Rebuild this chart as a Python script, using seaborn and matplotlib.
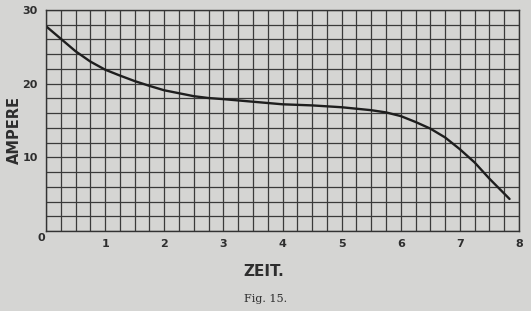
import numpy as np
import pandas as pd
import matplotlib
matplotlib.use("Agg")
import matplotlib.pyplot as plt
import seaborn as sns

zeit = [0, 0.25, 0.5, 0.75, 1.0, 1.25, 1.5, 1.75, 2.0, 2.25, 2.5, 2.75, 3.0,
        3.5, 4.0, 4.5, 5.0, 5.5, 5.75, 6.0, 6.25, 6.5, 6.75, 7.0, 7.25, 7.5, 7.84]
ampere = [27.8, 26.1, 24.4, 23.0, 21.9, 21.1, 20.35, 19.7, 19.1, 18.7, 18.3, 18.05, 17.9,
          17.55, 17.2, 17.05, 16.8, 16.4, 16.1, 15.6, 14.8, 13.9, 12.7, 11.1, 9.3, 7.1, 4.35]
x_ticks = [1, 2, 3, 4, 5, 6, 7, 8]
y_ticks = [10, 20, 30]

df = pd.DataFrame({"ZEIT": zeit, "AMPERE": ampere})

sns.set_style("white")
paper = "#d5d5d3"
ink = "#2e2e2e"

fig = plt.figure(figsize=(5.31, 3.11), dpi=100, facecolor=paper)
ax = fig.add_axes([46/531, (311-231)/311, 473/531, 221/311])
ax.set_facecolor(paper)

sns.lineplot(data=df, x="ZEIT", y="AMPERE", ax=ax, color="#1e1e1e", linewidth=1.7)

ax.set_xlim(0, 8)
ax.set_ylim(0, 30)
ax.set_xticks(np.arange(0, 8.01, 0.25), minor=True)
ax.set_yticks(np.arange(0, 30.01, 2), minor=True)
ax.set_xticks(x_ticks)
ax.set_yticks(y_ticks)
ax.set_xticklabels([str(v) for v in x_ticks], fontweight="bold", fontsize=8, color=ink)
ax.set_yticklabels([str(v) for v in y_ticks], fontweight="bold", fontsize=8, color=ink)
ax.tick_params(which="both", length=0)
ax.tick_params(axis="x", pad=6)
ax.tick_params(axis="y", pad=6)
ax.grid(which="minor", color="#3a3a3a", linewidth=0.9)
ax.grid(which="major", color="#3a3a3a", linewidth=0.9)
ax.set_axisbelow(True)
for s in ax.spines.values():
    s.set_color("#333333")
    s.set_linewidth(1.0)

ax.set_xlabel("")
ax.set_ylabel("")
fig.text(41/531, 1 - 238/311, "0", fontsize=8, fontweight="bold", color=ink,
         ha="center", va="center")
fig.text(14/531, 1 - 130/311, "AMPERE", rotation=90, fontsize=10.5, fontweight="bold",
         color=ink, ha="center", va="center")
fig.text(264/531, 1 - 272/311, "ZEIT.", fontsize=11, fontweight="bold", color=ink,
         ha="center", va="center")
fig.text(266/531, 1 - 299/311, "Fig. 15.", fontsize=8, family="DejaVu Serif", color=ink,
         ha="center", va="center")

fig.savefig("out.png", dpi=100, facecolor=paper)
